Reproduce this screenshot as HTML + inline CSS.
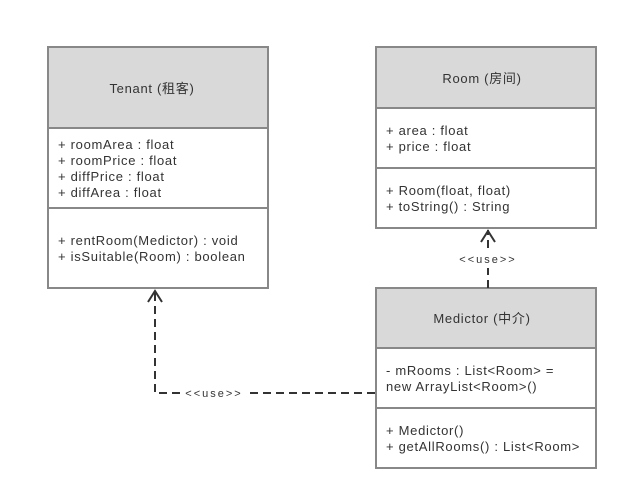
<!DOCTYPE html>
<html><head><meta charset="utf-8"><style>
html,body{margin:0;padding:0;background:#fff;width:628px;height:500px;overflow:hidden}
text{font-family:"Liberation Sans","Noto Sans CJK SC",sans-serif;font-size:13px;fill:#333;letter-spacing:0.7px}
</style></head><body>
<svg width="628" height="500" viewBox="0 0 628 500">
<g stroke="#888" stroke-width="2" fill="#fff">
<rect x="48" y="47" width="220" height="241"/>
<rect x="376" y="47" width="220" height="181"/>
<rect x="376" y="288" width="220" height="180"/>
</g>
<g fill="#d9d9d9" stroke="none">
<rect x="49" y="48" width="218" height="80"/>
<rect x="377" y="48" width="218" height="60"/>
<rect x="377" y="289" width="218" height="59"/>
</g>
<g stroke="#888" stroke-width="2">
<line x1="48" y1="128" x2="268" y2="128"/><line x1="48" y1="208" x2="268" y2="208"/>
<line x1="376" y1="108" x2="596" y2="108"/><line x1="376" y1="168" x2="596" y2="168"/>
<line x1="376" y1="348" x2="596" y2="348"/><line x1="376" y1="408" x2="596" y2="408"/>
</g>
<g text-anchor="middle">
<text x="152" y="93">Tenant (租客)</text>
<text x="482" y="83">Room (房间)</text>
<text x="482" y="323">Medictor (中介)</text>
</g>
<text x="58" y="149">+ roomArea : float</text>
<text x="58" y="165">+ roomPrice : float</text>
<text x="58" y="181">+ diffPrice : float</text>
<text x="58" y="197">+ diffArea : float</text>
<text x="58" y="245">+ rentRoom(Medictor) : void</text>
<text x="58" y="261">+ isSuitable(Room) : boolean</text>
<text x="386" y="135">+ area : float</text>
<text x="386" y="151">+ price : float</text>
<text x="386" y="195">+ Room(float, float)</text>
<text x="386" y="211">+ toString() : String</text>
<text x="386" y="375">- mRooms : List&lt;Room&gt; =</text>
<text x="386" y="391">new ArrayList&lt;Room&gt;()</text>
<text x="386" y="435">+ Medictor()</text>
<text x="386" y="451">+ getAllRooms() : List&lt;Room&gt;</text>
<g stroke="#333" stroke-width="2" fill="none">
<line x1="488" y1="288" x2="488" y2="268" stroke-dasharray="8,5"/>
<line x1="488" y1="248" x2="488" y2="230" stroke-dasharray="8,5"/>
<polyline points="481,242 488,231 495,242"/>
<polyline points="375,393 248,393" stroke-dasharray="8,5"/>
<polyline points="180,393 155,393 155,290" stroke-dasharray="8,5"/>
<polyline points="148,302 155,291 162,302"/>
</g>
<text x="488" y="263" text-anchor="middle" style="font-size:11px;letter-spacing:2px">&lt;&lt;use&gt;&gt;</text>
<text x="214" y="397" text-anchor="middle" style="font-size:11px;letter-spacing:2px">&lt;&lt;use&gt;&gt;</text>
</svg>
</body></html>
